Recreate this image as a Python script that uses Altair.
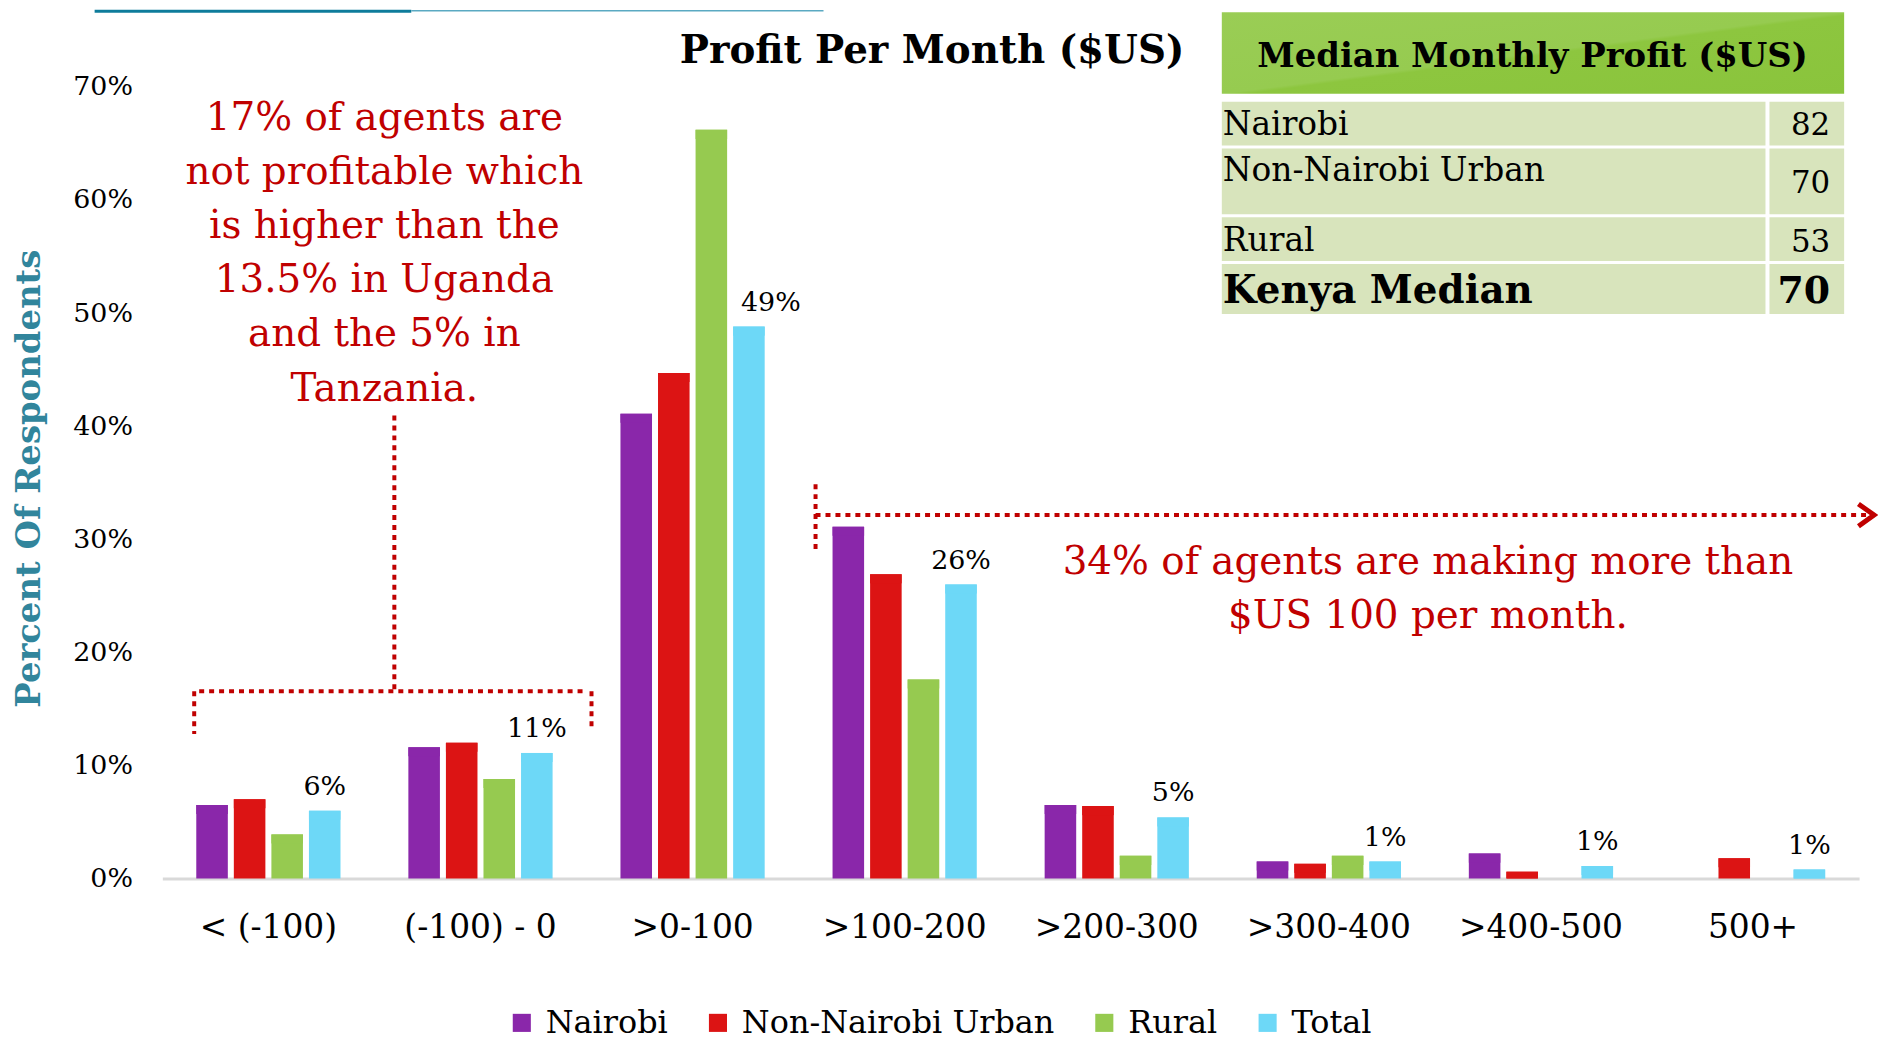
import altair as alt
import pandas as pd

# ---------------- data ----------------
categories = ["< (-100)", "(-100) - 0", ">0-100", ">100-200", ">200-300",
              ">300-400", ">400-500", "500+"]
series = ["Nairobi", "Non-Nairobi Urban", "Rural", "Total"]
nairobi = [6.5, 11.6, 41.1, 31.1, 6.5, 1.5, 2.2, 0.0]
non_nairobi = [7.0, 12.0, 44.7, 26.9, 6.4, 1.3, 0.6, 1.8]
rural = [3.9, 8.8, 66.2, 17.6, 2.0, 2.0, 0.0, 0.0]
total = [6.0, 11.1, 48.8, 26.0, 5.4, 1.5, 1.1, 0.8]
total_labels = ["6%", "11%", "49%", "26%", "5%", "1%", "1%", "1%"]
y_ticks = [0, 10, 20, 30, 40, 50, 60, 70]

table_labels = ["Nairobi", "Non-Nairobi Urban", "Rural", "Kenya Median"]
table_values = ["82", "70", "53", "70"]

note_left = ["17% of agents are", "not profitable which", "is higher than the",
             "13.5% in Uganda", "and the 5% in", "Tanzania."]
note_right = ["34% of agents are making more than", "$US 100 per month."]

# ---------------- styles ----------------
FONT = "DejaVu Serif"
body_colors = ["#8A27AA", "#DC1414", "#96CA50", "#6DD8F7"]
cap_colors = ["#7A00A0", "#D50000", "#8BC53F", "#62D2F3"]
RED = "#C00000"

W, H = 1704, 795

rows = []
for i, c in enumerate(categories):
    for s, vals in zip(series, [nairobi, non_nairobi, rural, total]):
        rows.append({"cat": c, "series": s, "value": vals[i]})
df = pd.DataFrame(rows)

x_enc = alt.X("cat:N", sort=categories,
              scale=alt.Scale(domain=categories, paddingInner=0.32, paddingOuter=0.16),
              axis=alt.Axis(title=None, labelAngle=0, labelFont=FONT, labelFontSize=33,
                            labelColor="#000000", labelPadding=33, ticks=False,
                            domainColor="#D9D9D9", domainWidth=3))
xo_enc = alt.XOffset("series:N", sort=series,
                     scale=alt.Scale(domain=series, paddingInner=0.16, paddingOuter=0))
y_enc = alt.Y("value:Q", scale=alt.Scale(domain=[0, 70], nice=False, zero=True),
              axis=alt.Axis(title="Percent Of Respondents", values=y_ticks,
                            labelExpr="datum.value + '%'", labelFont=FONT,
                            labelFontSize=27, labelColor="#000000", labelPadding=30,
                            grid=False, domain=False, ticks=False,
                            titleFont=FONT, titleFontSize=34, titleFontWeight="bold",
                            titleColor="#31859C", titleX=-133, titleY=393,
                            titleAlign="center", titleBaseline="middle", titleAngle=-90))

base = alt.Chart(df)
bars = base.mark_bar().encode(
    x=x_enc, xOffset=xo_enc, y=y_enc,
    color=alt.Color("series:N", sort=series,
                    scale=alt.Scale(domain=series, range=body_colors),
                    legend=alt.Legend(title=None, orient="none", legendX=345, legendY=924,
                                      direction="horizontal", symbolType="square",
                                      symbolSize=330, symbolStrokeWidth=0,
                                      labelFont=FONT, labelFontSize=32, labelLimit=0,
                                      labelColor="#000000", columnPadding=34,
                                      labelOffset=8, padding=0)),
)
caps = base.transform_calculate(
    lo="max(datum.value - 0.8, 0)"
).mark_bar().encode(
    x=x_enc, xOffset=xo_enc, y="value:Q", y2="lo:Q",
    color=alt.Color("series:N", sort=series,
                    scale=alt.Scale(domain=series, range=cap_colors), legend=None),
)

lab_df = pd.DataFrame({"cat": categories, "series": ["Total"] * len(categories),
                       "value": total, "label": total_labels})
labels = alt.Chart(lab_df).transform_filter("datum.value < 40").mark_text(
    baseline="alphabetic", dy=-16, font=FONT, fontSize=27, color="#000000"
).encode(x=x_enc, xOffset=xo_enc, y="value:Q", text="label:N")
# the tall-group label sits a little to the right of its bar, as in the original
labels_shifted = alt.Chart(lab_df).transform_filter("datum.value >= 40").mark_text(
    baseline="alphabetic", dy=-16, dx=22, font=FONT, fontSize=27, color="#000000"
).encode(x=x_enc, xOffset=xo_enc, y="value:Q", text="label:N")

one = pd.DataFrame({"k": [0]})


def text_layer(txt, x, y, size, weight="normal", color="#000000", align="center",
               line_height=None):
    kw = dict(font=FONT, fontSize=size, fontWeight=weight, color=color, align=align,
              baseline="alphabetic")
    if line_height:
        kw["lineHeight"] = line_height
    return alt.Chart(one).mark_text(**kw).encode(
        x=alt.value(x), y=alt.value(y), text=alt.value(txt))


def rule(x1, y1, x2, y2, width=4, dash=(5, 5), color=RED):
    kw = dict(color=color, strokeWidth=width)
    if dash:
        kw["strokeDash"] = list(dash)
    return alt.Chart(one).mark_rule(**kw).encode(
        x=alt.value(x1), y=alt.value(y1), x2=alt.value(x2), y2=alt.value(y2))


def rect(x1, y1, x2, y2, fill):
    return alt.Chart(one).mark_rect(color=fill).encode(
        x=alt.value(x1), y=alt.value(y1), x2=alt.value(x2), y2=alt.value(y2))


layers = [bars, caps, labels, labels_shifted]

# title
layers.append(text_layer("Profit Per Month ($US)", 773, -24, 39, weight="bold"))

# top decorative line
layers.append(rule(-68, -76, 250, -76, width=3, dash=None, color="#0E7C9B"))
layers.append(rule(250, -76.5, 664, -76.5, width=1.5, dash=None, color="#5AA9C2"))

# left note + brace
layers.append(text_layer(note_left, 223, 43, 39, color=RED, line_height=54.4))
layers.append(rule(37, 607, 422, 607))
layers.append(rule(32, 607, 32, 650))
layers.append(rule(431, 607, 431, 645))
layers.append(rule(233, 330, 233, 607))

# right note + arrow
layers.append(text_layer(note_right, 1271, 489, 39, color=RED, line_height=54))
layers.append(rule(656, 399, 656, 467))
layers.append(rule(656, 430, 1712, 430))
layers.append(alt.Chart(one).mark_point(
    shape="M-1.4,-1L0,0L-1.4,1", filled=False, color=RED, strokeWidth=5, size=500,
    opacity=1).encode(x=alt.value(1719), y=alt.value(430)))

# median table
tx0, tdiv, tx2 = 1064, 1614, 1689
header_fill = {"gradient": "linear", "x1": 0, "y1": 0, "x2": 1, "y2": 1,
               "stops": [{"offset": 0, "color": "#9ACD55"},
                         {"offset": 0.5, "color": "#96CB50"},
                         {"offset": 0.52, "color": "#8DC63F"},
                         {"offset": 1, "color": "#8AC43C"}]}
layers.append(alt.Chart(one).mark_rect().encode(
    x=alt.value(tx0), y=alt.value(-75), x2=alt.value(tx2), y2=alt.value(7),
    color=alt.value(header_fill)))
row_bounds = [(15, 59), (62, 128), (131, 175), (178, 228)]
label_base = [48, 95, 165, 217]
value_base = [48, 107, 166, 217]
for i, (lab, val) in enumerate(zip(table_labels, table_values)):
    y0, y1 = row_bounds[i]
    layers.append(rect(tx0, y0, tdiv - 4, y1, "#D8E4BC"))
    layers.append(rect(tdiv, y0, tx2, y1, "#D8E4BC"))
    bold = i == len(table_labels) - 1
    layers.append(text_layer(lab, tx0 + 1, label_base[i], 39 if bold else 33,
                             weight="bold" if bold else "normal", align="left"))
    layers.append(text_layer(val, tx2 - 14, value_base[i], 38 if bold else 31,
                             weight="bold" if bold else "normal", align="right"))
layers.append(text_layer("Median Monthly Profit ($US)", 1376, -20, 34, weight="bold"))

chart = alt.layer(*layers).properties(
    width=W, height=H,
    autosize=alt.AutoSizeParams(type="none"),
    padding={"left": 155, "top": 77, "right": 19, "bottom": 160},
    background="white",
).configure_view(stroke=None, strokeWidth=0)

chart.save("out.html", embed_options={"renderer": "svg", "actions": False})
